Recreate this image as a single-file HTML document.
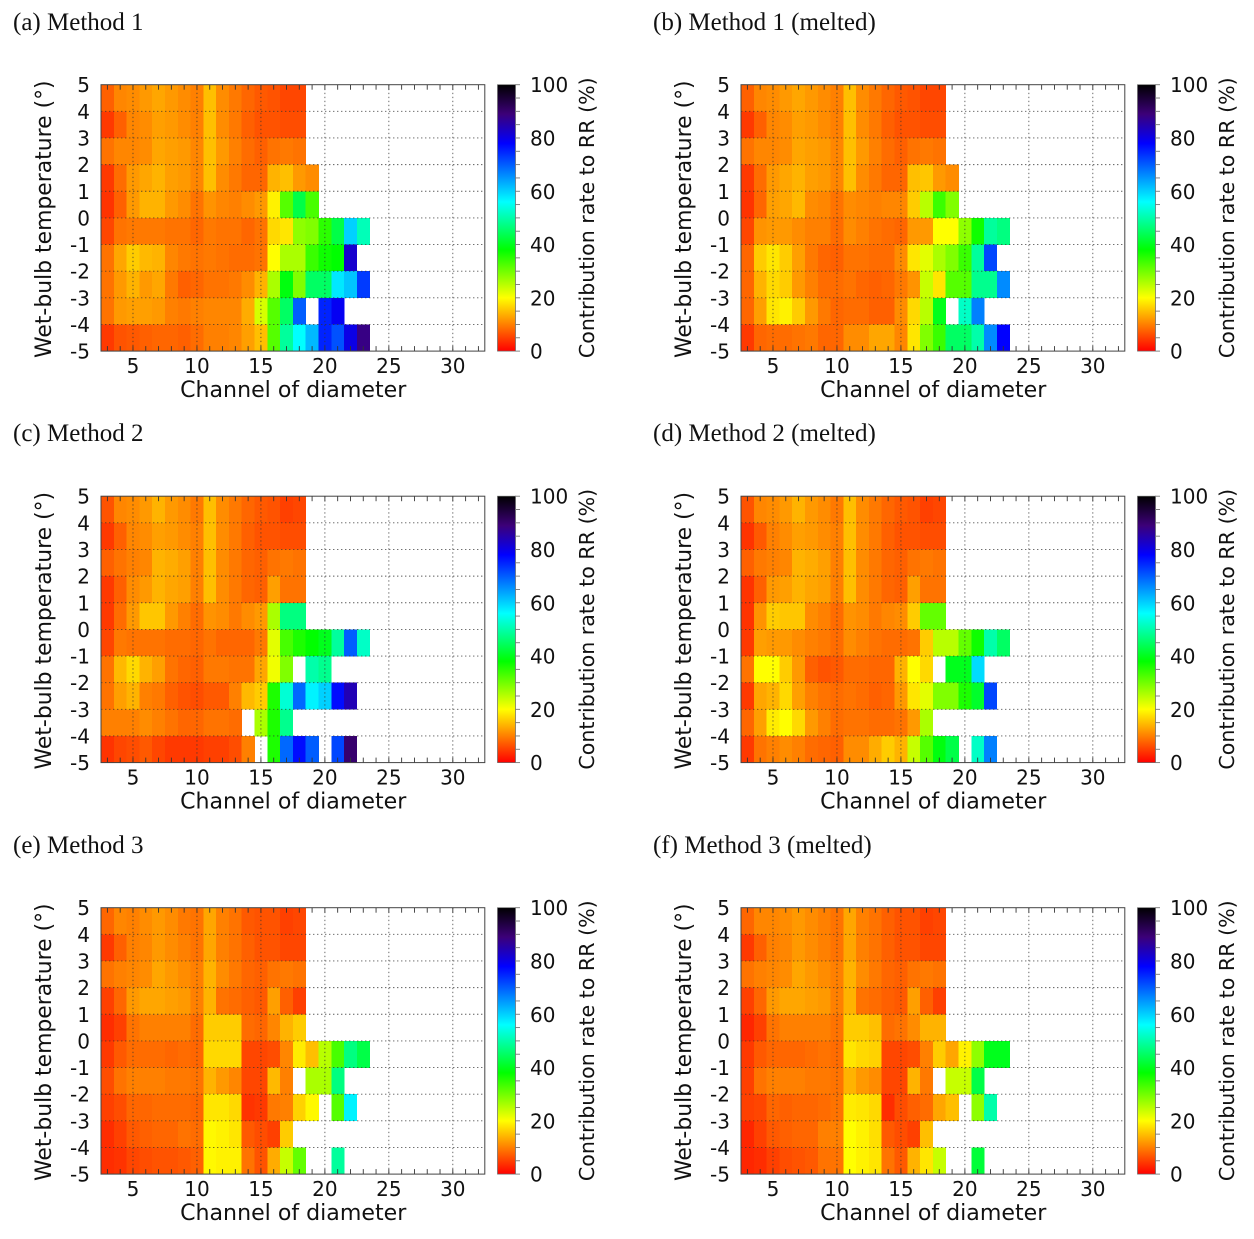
<!DOCTYPE html>
<html lang="en">
<head>
<meta charset="utf-8">
<title>Contribution rate to RR by channel of diameter and wet-bulb temperature</title>
<style>
html,body{margin:0;padding:0;background:#fff;width:1254px;height:1239px;overflow:hidden}
svg{display:block}
.tick{font-family:"DejaVu Sans",sans-serif;font-size:20px;fill:#111}
.axis{font-family:"DejaVu Sans",sans-serif;font-size:22.1px;fill:#111}
.axis-y{font-family:"DejaVu Sans",sans-serif;font-size:21.9px;fill:#111}
.axis-cb{font-family:"DejaVu Sans",sans-serif;font-size:20.6px;fill:#111}
.title{font-family:"Liberation Serif",serif;font-size:25px;fill:#111}
</style>
</head>
<body>
<svg id="chart" xmlns="http://www.w3.org/2000/svg" width="1254" height="1239" viewBox="0 0 1254 1239">
<defs>
<linearGradient id="cmap" x1="0" y1="1" x2="0" y2="0"></linearGradient>
</defs>
</svg>
<script>
const _ = null;
const temperatures = [4,3,2,1,0,-1,-2,-3,-4,-5];
const firstChannel = 3;
const channelTicks = [5,10,15,20,25,30];
const temperatureTicks = [5,4,3,2,1,0,-1,-2,-3,-4,-5];
const colorbarTicks = [0,20,40,60,80,100];
const titles = ["(a) Method 1","(b) Method 1 (melted)","(c) Method 2","(d) Method 2 (melted)","(e) Method 3","(f) Method 3 (melted)"];

const panelA = [
[7.5,10.5,11,12,13,12,11,10,15,11,9.5,8,7,6.5,5.5,5.5],
[4.5,7.5,10.5,11,12.5,12,11,10,15,11,9.5,7.5,6.5,6.5,6,6],
[9,10.5,10.5,11,13,12.5,12,10.5,15,12,10,8.5,7.5,9,9.5,9],
[4.5,8.5,12,13,14,12.5,12,10.5,15,11,9.5,8,8,14,15,12,11],
[4,7.5,12,14,14,12,11,9,11.5,10.5,10,11,12,19,32,43,33],
[5.5,9,9.5,9.5,9.5,9,9,8,9.5,9,9,8,9,17,18,28,29,35,43,60,51],
[9,13,16,14.5,14,10.5,9.5,9,9.5,9,8.5,8.5,9,20,26,26,34,37,38,82],
[9,12,14,12,13,9.5,7.5,8,9,9,9.5,11,14,26,39,29,45,45,58,61,73],
[9,12,12.5,12.5,12,10,9.5,10,10.5,10.5,10.5,13.5,23,32,45,70,_,75,79],
[4.5,6.5,7,7.5,8,8,7.5,8.5,10,10,10.5,12.5,15,32,49,56,62,75,71,80,88]
];
const panelB = [
[7.5,10.5,11,12,13,12,11,10,15,11,9.5,8,7,6.5,5.5,5.5],
[4.5,7.5,10.5,11,12.5,12,11,10,15,11,9.5,7.5,6.5,6.5,6,6],
[9,10.5,10.5,11,13,12.5,12,10.5,15,12,10,8.5,7.5,9,9.5,9],
[4.5,8.5,12,13,14,12.5,12,10.5,15,11,9.5,8,8,15,15.5,12,11],
[4,8,12.5,13,14.5,11,10.5,9,11,10.5,10,10.5,10.5,16,25,34,29],
[5.5,11.5,12,12,11,10,10,8.5,11,10,9,8.5,8,12,12,20,20,28,37,49,47],
[8,16,18,16,12.5,9.5,8,7.5,9,9,8.5,8.5,11,18,22,26,29,34,49,72],
[8,14,17,16,12,10,8.5,8.5,9,8,7.5,8,9.5,11.5,24,18,32,32,48,48,66],
[8,12.5,18,19,16,12,9.5,8,8.5,8.5,7.5,7.5,11,17,25,40,_,52,67],
[4.5,8,8.5,8.5,9,9.5,8,8,11,11,13,13,10.5,18,29,34,45,45,50,66,78]
];
const panelC = [
[6.5,10.5,11,12,14,12,11,9.5,15,11,9.5,8,7,6.5,5,5.5],
[4.5,7.5,10.5,11,12.5,12,11,10,15,11,9.5,7.5,6.5,6.5,6,6],
[7.5,9,10,10.5,14,13.5,12.5,10,15,11,9.5,8,7.5,9,9.5,9],
[4.5,7.5,11,12,14,13,12.5,10,15,11,9.5,8,7.5,12.5,9,9],
[4.5,8.5,12,15.5,15.5,12,10,8.5,11.5,11,9.5,11,12,26,47,47],
[5.5,9.5,9,9,9,8.5,8.5,8,9,8,8,8,9.5,22,33,36,38,40,49,70,52],
[9,14.5,17,14,12.5,9,8,7.5,9.5,9.5,9,9,13,21,29,_,50,48],
[9,12.5,14,10,9.5,7.5,6.5,6,7,7,10,14.5,16,36,53,69,57,60,77,84],
[10,10,10,11,10,9,8,8,9,9,8.5,_,26,36,48],
[4,5.5,6,7,5.5,4.5,4.5,4.5,5,5,6,10,_,36,69,77,70,_,72,90]
];
const panelD = [
[6.5,10.5,11,12,14,12,11,9.5,15,11,9.5,8,7,6.5,5,5.5],
[4,7,10,11,12.5,12,11,10,15,11,9.5,7.5,6.5,6.5,6,6],
[7.5,9.5,10,10.5,14,13.5,12.5,10,15,11,9.5,8,7.5,9,9.5,9],
[4,7.5,12,12.5,14,13,12.5,10,15,11,9.5,8,7.5,12.5,9,9],
[4,11.5,16,15.5,15.5,11,10,8.5,11.5,11,9.5,10.5,11,16,31,31],
[4.5,12.5,12,12,11,10,9.5,8.5,11,10,9,8.5,8.5,9,16,25,25,31,37,50,45],
[9,20,20,16,12,7.5,6.5,7,8.5,8.5,8,8,14,20,17,_,40,40,59],
[4.5,13,14,17,12.5,10,9,8.5,9,8.5,7.5,8,12,18,22,29,29,36,41,72],
[8,12.5,18.5,20,17,12,10,8.5,9,9,8.5,8.5,9,12,26],
[4.5,9,10,11,10,8.5,8,7.5,11,11,13.5,16,14,24,32,39,43,_,52,67]
];
const panelE = [
[8,10.5,10,11,12,11,9.5,9,13,10,9,7,6.5,6.5,5,5.5],
[4.5,7.5,10,10.5,12,11,10,9,13,10,9,7.5,6.5,6.5,5.5,5.5],
[9,10,10.5,11,13,12,11,10,14,11,9.5,8,7.5,9,9.5,9],
[5,8,12,13,13,12.5,12,10,14,9,8.5,7.5,7,12.5,7.5,5],
[3.5,5,9,10,10,10,10,8.5,16,16,16,8.5,8,10.5,14,16],
[4.5,7,8.5,8.5,8.5,8,8.5,8,17,17,17,5.5,5.5,6,10.5,18.5,15,25,33,47,43],
[6,9,10,10,10,9.5,9.5,9,14,12,10.5,5.5,5.5,14.5,10,_,26,26,47],
[5,6,8,8,8.5,8.5,8.5,8,18,18,17,4,4.5,9.5,10,16.5,19.5,_,32,57],
[3.5,5,7,7.5,8,8,9,8.5,19.5,19,18,7,6,5,16],
[3.5,4,5.5,6,6.5,6.5,7,7.5,19.5,19,19,9,6.5,13.5,24,31,_,_,49]
];
const panelF = [
[8,10.5,10.5,11,12,11,10,9,13,10,9,7.5,6.5,6.5,5,5.5],
[4.5,7.5,10,10.5,12,11,10,9,13,10,9,7.5,6.5,6.5,5.5,5.5],
[9,10,10.5,11,13,12,11,10,14,11,9.5,8,7.5,9,9.5,9],
[5,8,12,13,13,12.5,12,10,14,9,8.5,7.5,7,12.5,7.5,5],
[3,5,9,10,10,10,10,9,16,16,15,8.5,9,11,14,14],
[4.5,7,8,8,8,8.5,9,8.5,18,17,16.5,5.5,5.5,6,10,16,13,19,28,40,40],
[5,9,10,10,10,9.5,9.5,9,14,12,11,5.5,5.5,14,9.5,_,24,24,43],
[5,5.5,8,7.5,8,8,8.5,9,18.5,18,17,3.5,6,7.5,8.5,13,15,_,28,50],
[3,5,7,7.5,8,8,10,10,20,19,17.5,7,6,5,15],
[3,3.5,5,6,6.5,7,9,9,20,19,18,9,7,14,18,24,_,_,42]
];
const panels = [panelA,panelB,panelC,panelD,panelE,panelF];

const cmapValues = [0,20,38,56,78,89,100];
const cmapRed = [255,255,0,0,0,60,0];
const cmapGreen = [0,255,255,255,0,0,0];
const cmapBlue = [0,0,0,255,255,120,0];

const NS = "http://www.w3.org/2000/svg";
const svg = document.getElementById("chart");
const PLOT_W = 383.8, PLOT_H = 266.4;
const COL_X = [101, 741], ROW_Y = [84.7, 496.2, 907.7], TITLE_Y = [30, 441, 853];

function colorFor(v){
  let i = 0;
  while(i < cmapValues.length-2 && v > cmapValues[i+1]) i++;
  const t = Math.max(0, Math.min(1, (v-cmapValues[i])/(cmapValues[i+1]-cmapValues[i])));
  const mix = a => Math.round(a[i]+(a[i+1]-a[i])*t);
  return "rgb("+mix(cmapRed)+","+mix(cmapGreen)+","+mix(cmapBlue)+")";
}
function make(tag, attrs, parent, text){
  const el = document.createElementNS(NS, tag);
  for(const k in attrs) el.setAttribute(k, attrs[k]);
  if(text !== undefined) el.textContent = text;
  parent.appendChild(el);
  return el;
}
const grad = document.getElementById("cmap");
cmapValues.forEach((v)=>{
  make("stop",{offset:(v/100),"stop-color":colorFor(v)},grad);
});

panels.forEach((data, idx)=>{
  const ox = COL_X[idx%2], oy = ROW_Y[Math.floor(idx/2)];
  const letter = "abcdef"[idx];
  const xOf = c => ox + (c-2.5)/30*PLOT_W;
  const yOf = t => oy + (5-t)/10*PLOT_H;
  const cbY = v => oy + PLOT_H - v/100*PLOT_H;

  const g = make("g",{},svg);
  
  

  const title = make("text",{class:"title",x:ox-88,y:TITLE_Y[Math.floor(idx/2)]},g,titles[idx]);
  
  

  const cells = make("g",{"shape-rendering":"crispEdges"},g);
  
  
  data.forEach((row,r)=>{
    const t = temperatures[r];
    row.forEach((v,i)=>{
      if(v === null) return;
      const c = firstChannel+i;
      const cell = make("rect",{x:xOf(c-0.5),y:yOf(t+1),width:xOf(c+0.5)-xOf(c-0.5)+0.3,height:yOf(t)-yOf(t+1)+0.3,fill:colorFor(v)},cells);
      
      
    });
  });

  const grid = make("g",{stroke:"#333","stroke-width":0.9,"stroke-dasharray":"1.4 2.6",opacity:0.8},g);
  
  
  channelTicks.forEach(c=>{
    make("line",{x1:xOf(c),x2:xOf(c),y1:oy,y2:oy+PLOT_H},grid);
  });
  temperatureTicks.slice(1,-1).forEach(t=>{
    make("line",{x1:ox,x2:ox+PLOT_W,y1:yOf(t),y2:yOf(t)},grid);
  });

  const ticks = make("g",{stroke:"#333","stroke-width":0.9},g);
  
  
  for(let c=3;c<=32;c++){
    make("line",{x1:xOf(c),x2:xOf(c),y1:oy,y2:oy+5},ticks);
    make("line",{x1:xOf(c),x2:xOf(c),y1:oy+PLOT_H-5,y2:oy+PLOT_H},ticks);
  }

  const frame = make("rect",{x:ox,y:oy,width:PLOT_W,height:PLOT_H,fill:"none",stroke:"#444","stroke-width":1},g);
  
  

  channelTicks.forEach(c=>{
    const lab = make("text",{class:"tick",x:xOf(c),y:oy+PLOT_H+22,"text-anchor":"middle"},g,c);
    
    
  });
  temperatureTicks.forEach(t=>{
    const lab = make("text",{class:"tick",x:ox-11,y:yOf(t)+7.5,"text-anchor":"end"},g,t);
    
    
  });

  const xTitle = make("text",{class:"axis",x:ox+192.2,y:oy+PLOT_H+46,"text-anchor":"middle"},g,"Channel of diameter");
  
  

  const yTitle = make("text",{class:"axis-y",x:0,y:0,"text-anchor":"middle",transform:"translate("+(ox-50.2)+" "+(oy+134.5)+") rotate(-90)"},g,"Wet-bulb temperature (°)");
  
  

  const bar = make("rect",{x:ox+396.5,y:oy,width:18,height:PLOT_H,fill:"url(#cmap)",stroke:"#666","stroke-width":0.7},g);
  
  

  const cbTicks = make("g",{stroke:"#777","stroke-width":0.9},g);
  
  
  for(let v=0;v<=100;v+=5){
    make("line",{x1:ox+414,x2:ox+419,y1:cbY(v),y2:cbY(v)},cbTicks);
  }
  colorbarTicks.forEach(v=>{
    const lab = make("text",{class:"tick",x:ox+429,y:cbY(v)+7.5},g,v);
    
    
  });

  const cbTitle = make("text",{class:"axis-cb",x:0,y:0,"text-anchor":"middle",transform:"translate("+(ox+493)+" "+(oy+133)+") rotate(-90)"},g,"Contribution rate to RR (%)");
  
  
});
</script>
</body>
</html>
